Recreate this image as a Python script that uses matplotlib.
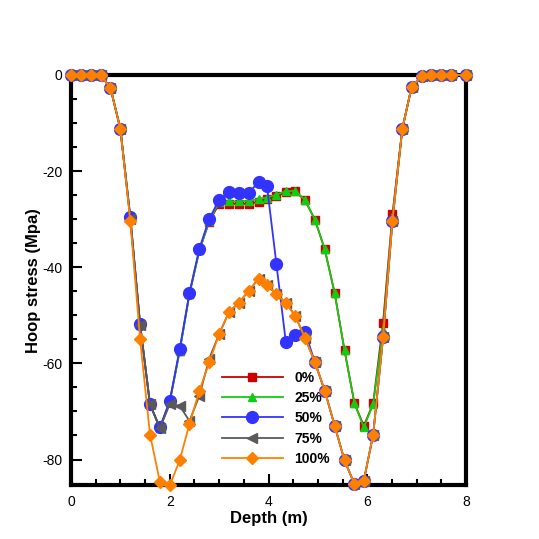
import matplotlib.pyplot as plt
from matplotlib.ticker import MultipleLocator

# depth positions (m)
depth = [0.0, 0.2, 0.4, 0.6, 0.8, 1.0, 1.2, 1.4, 1.6, 1.8,
         2.0, 2.2, 2.4, 2.6, 2.8, 3.0, 3.2, 3.4, 3.6, 3.8,
         3.97, 4.16, 4.35, 4.54, 4.74, 4.94, 5.14, 5.34, 5.54, 5.74,
         5.93, 6.12, 6.32, 6.51, 6.71, 6.90, 7.10, 7.30, 7.49, 7.69, 8.0]

s0 = [0, 0, 0, 0, -2.7, -11.2, -29.5, -52.0, -68.5, -73.5,
      -68.0, -57.5, -45.5, -36.5, -30.5, -26.8, -26.8, -26.8, -26.8, -26.4,
      -25.9, -25.2, -24.4, -24.2, -26.1, -30.1, -36.3, -45.4, -57.3, -68.3,
      -73.0, -68.3, -51.5, -29.0, -11.2, -2.4, -0.3, 0, 0, 0, 0]

s25 = [0, 0, 0, 0, -2.7, -11.2, -29.5, -52.0, -68.5, -73.5,
       -68.0, -57.5, -45.5, -36.5, -30.3, -26.4, -26.3, -26.3, -26.2, -25.8,
       -25.5, -24.9, -24.2, -24.1, -26.0, -30.1, -36.3, -45.4, -57.3, -68.3,
       -73.3, -68.5, -53.0, -29.5, -11.2, -2.4, -0.3, 0, 0, 0, 0]

s50 = [0, 0, 0, 0, -2.7, -11.2, -29.5, -51.9, -68.5, -73.3,
       -67.8, -57.1, -45.3, -36.1, -29.9, -26.0, -24.3, -24.5, -24.5, -22.3,
       -23.2, -39.3, -55.5, -54.0, -53.4, -59.8, -65.7, -73.0, -80.2, -85.1,
       -84.4, -74.8, -54.6, -30.3, -11.2, -2.4, -0.3, 0, 0, 0, 0]

s75 = [0, 0, 0, 0, -2.7, -11.2, -30.0, -52.0, -68.5, -73.5,
       -68.5, -68.8, -72.0, -66.7, -59.0, -53.9, -49.3, -47.4, -44.9, -42.4,
       -43.6, -45.6, -47.4, -50.1, -54.7, -59.8, -65.7, -73.0, -80.2, -85.1,
       -84.4, -74.8, -54.6, -30.3, -11.2, -2.4, -0.3, 0, 0, 0, 0]

s100 = [0, 0, 0, 0, -2.7, -11.2, -30.3, -55.0, -74.8, -84.6,
        -85.4, -80.2, -72.6, -65.7, -59.8, -53.9, -49.3, -47.4, -44.9, -42.4,
        -43.6, -45.6, -47.4, -50.1, -54.7, -59.8, -65.7, -73.0, -80.2, -85.1,
        -84.4, -74.8, -54.6, -30.3, -11.2, -2.4, -0.3, 0, 0, 0, 0]

labels = ['0%', '25%', '50%', '75%', '100%']

plt.rcParams['font.family'] = ['Liberation Sans', 'DejaVu Sans']
plt.rcParams['axes.unicode_minus'] = False

fig = plt.figure(figsize=(5.39, 5.39), dpi=100)
ax = fig.add_axes([0.1317, 0.0993, 0.7329, 0.7616])

ax.plot(depth, s0, color='#cc0000', marker='s', ms=5.5, lw=1.3, label=labels[0], clip_on=False)
ax.plot(depth, s25, color='#11cc11', marker='^', ms=6, lw=1.3, label=labels[1], clip_on=False)
ax.plot(depth, s50, color='#3333ff', marker='o', ms=8.5, lw=1.3, label=labels[2], clip_on=False)
ax.plot(depth, s75, color='#5a5a5a', marker='<', ms=7, lw=1.3, label=labels[3], clip_on=False)
ax.plot(depth, s100, color='#ff8000', marker='D', ms=6.5, lw=1.3, label=labels[4], clip_on=False)

ax.set_xlim(0, 8)
ax.set_ylim(-85.4, 0)
ax.xaxis.set_major_locator(MultipleLocator(2))
ax.xaxis.set_minor_locator(MultipleLocator(0.5))
ax.yaxis.set_major_locator(MultipleLocator(20))
ax.yaxis.set_minor_locator(MultipleLocator(5))
ax.tick_params(which='both', direction='in', top=False, right=False, width=1.5, labelsize=10)
ax.tick_params(which='major', length=8, pad=7)
ax.tick_params(axis='y', which='major', pad=6)
ax.tick_params(which='minor', length=4)
for sp in ax.spines.values():
    sp.set_linewidth(3)
    sp.set_zorder(1)

ax.set_xlabel('Depth (m)', fontsize=12, fontweight='bold', labelpad=1)
ax.set_ylabel('Hoop stress (Mpa)', fontsize=12, fontweight='bold', labelpad=1)

leg = ax.legend(loc='center', bbox_to_anchor=(0.512, 0.224), bbox_transform=fig.transFigure,
                frameon=False, handlelength=4.4, handletextpad=0.85, labelspacing=0.45,
                borderpad=0, prop={'weight': 'bold', 'size': 10})

fig.savefig('out.png', dpi=100)
